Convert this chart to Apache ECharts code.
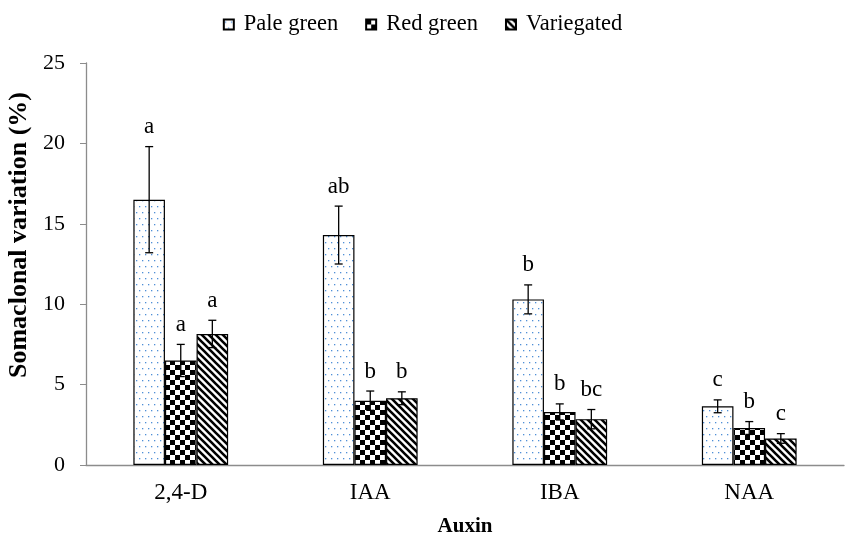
<!DOCTYPE html>
<html>
<head>
<meta charset="utf-8">
<script src="https://cdn.jsdelivr.net/npm/echarts@6/dist/echarts.min.js"></script>
<style>html,body{margin:0;padding:0;background:#fff}#c{width:845px;height:535px}</style>
</head>
<body>
<div id="c"></div>
<script>
const categories = ['2,4-D', 'IAA', 'IBA', 'NAA'];
const seriesNames = ['Pale green', 'Red green', 'Variegated'];
const paleGreen = [16.5, 14.3, 10.3, 3.65];
const redGreen = [6.5, 4.0, 3.3, 2.3];
const variegated = [8.15, 4.15, 2.85, 1.65];
const paleErr = [3.3, 1.8, 0.9, 0.4];
const redErr = [1.0, 0.6, 0.5, 0.4];
const varErr = [0.85, 0.4, 0.6, 0.3];
const paleLetters = ['a', 'ab', 'b', 'c'];
const redLetters = ['a', 'b', 'b', 'b'];
const varLetters = ['a', 'b', 'bc', 'c'];
const yTicks = [0, 5, 10, 15, 20, 25];

function makeTile(w, h, draw) {
  const cv = document.createElement('canvas');
  cv.width = w; cv.height = h;
  const ctx = cv.getContext('2d');
  ctx.fillStyle = '#fff'; ctx.fillRect(0, 0, w, h);
  draw(ctx);
  return { image: cv, repeat: 'repeat' };
}
const dotPattern = makeTile(6, 12, ctx => {
  ctx.fillStyle = '#4f8fd6';
  ctx.fillRect(1, 2, 1.3, 1.3);
  ctx.fillRect(4, 8, 1.3, 1.3);
});
const checkPattern = makeTile(10, 10, ctx => {
  ctx.fillStyle = '#000';
  ctx.fillRect(0, 0, 5, 5);
  ctx.fillRect(5, 5, 5, 5);
});
const stripePattern = makeTile(7, 7, ctx => {
  ctx.strokeStyle = '#000';
  ctx.lineWidth = 2.6;
  ctx.beginPath();
  ctx.moveTo(-7, -7); ctx.lineTo(14, 14);
  ctx.moveTo(-7, 0); ctx.lineTo(7, 14);
  ctx.moveTo(0, -7); ctx.lineTo(14, 7);
  ctx.stroke();
});
const patterns = [dotPattern, checkPattern, stripePattern];
const values = [paleGreen, redGreen, variegated];
const errs = [paleErr, redErr, varErr];
const letters = [paleLetters, redLetters, varLetters];

const errData = [];
const errLetters = [];
for (let s = 0; s < 3; s++) {
  for (let c = 0; c < categories.length; c++) {
    errData.push([c, s, values[s][c], errs[s][c]]);
    errLetters.push(letters[s][c]);
  }
}

const font = 'Liberation Serif, Times New Roman, serif';
const chart = echarts.init(document.getElementById('c'));
chart.setOption({
  animation: false,
  textStyle: { fontFamily: font },
  legend: {
    data: seriesNames,
    top: 8,
    left: 'center',
    itemWidth: 10,
    itemHeight: 10,
    itemGap: 27,
    icon: 'rect',
    textStyle: { fontFamily: font, fontSize: 22.5, color: '#000', padding: [0, 0, 0, 5] }
  },
  grid: { left: 86, right: 1, top: 63, bottom: 70, containLabel: false, outerBoundsMode: 'none' },
  xAxis: {
    type: 'category',
    data: categories,
    name: 'Auxin',
    nameLocation: 'middle',
    nameGap: 51,
    nameTextStyle: { fontFamily: font, fontSize: 21, fontWeight: 'bold', color: '#000' },
    axisLine: { lineStyle: { color: '#8c8c8c', width: 1.3 } },
    axisTick: { show: false },
    axisLabel: { fontFamily: font, fontSize: 23, color: '#000', margin: 16 }
  },
  yAxis: {
    type: 'value',
    min: yTicks[0],
    max: yTicks[yTicks.length - 1],
    interval: 5,
    name: 'Somaclonal variation (%)',
    nameLocation: 'middle',
    nameGap: 52,
    nameTextStyle: { fontFamily: font, fontSize: 26, fontWeight: 'bold', color: '#000', padding: [0, 0, 0, 58] },
    axisLine: { show: true, lineStyle: { color: '#8c8c8c', width: 1.3 } },
    axisTick: { show: true, length: 6, lineStyle: { color: '#8c8c8c' } },
    splitLine: { show: false },
    axisLabel: { fontFamily: font, fontSize: 22, color: '#000', margin: 21 }
  },
  series: [
    ...seriesNames.map((n, i) => ({
      name: n,
      type: 'bar',
      data: values[i],
      barGap: '0%',
      barCategoryGap: '50%',
      itemStyle: { color: patterns[i], borderColor: '#000', borderWidth: 1.2 }
    })),
    {
      name: 'err',
      type: 'custom',
      z: 10,
      data: errData,
      encode: { x: 0, y: 2 },
      renderItem: function (params, api) {
        const ci = api.value(0), si = api.value(1), v = api.value(2), e = api.value(3);
        const W = api.size([1, 0])[0];
        const base = api.coord([ci, v]);
        const x = base[0] + (si - 1) * W / 6;
        const yT = api.coord([ci, v + e])[1];
        const yB = api.coord([ci, v - e])[1];
        const cap = 4;
        const ls = { stroke: '#000', lineWidth: 1.3 };
        return {
          type: 'group',
          children: [
            { type: 'line', shape: { x1: x, y1: yT, x2: x, y2: yB }, style: ls },
            { type: 'line', shape: { x1: x - cap, y1: yT, x2: x + cap, y2: yT }, style: ls },
            { type: 'line', shape: { x1: x - cap, y1: yB, x2: x + cap, y2: yB }, style: ls },
            { type: 'text', style: { text: errLetters[params.dataIndex], x: x, y: yT - 8,
                align: 'center', verticalAlign: 'bottom', fontFamily: font, fontSize: 23, fill: '#000' } }
          ]
        };
      }
    }
  ]
});
</script>
</body>
</html>
